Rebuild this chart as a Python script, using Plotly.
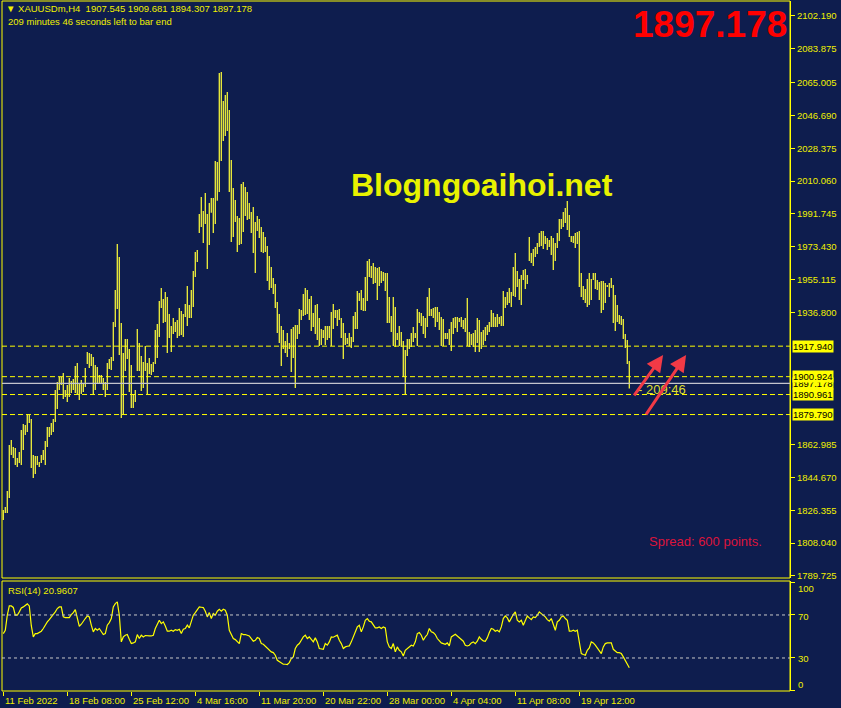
"""
XAUUSD H4 chart in MetaTrader style, with an RSI(14) panel underneath
"""

import plotly.graph_objects as go

W, H = 841, 708

# ---- data ----
bar_high = [
    1826.5, 1828.2, 1837.2, 1862.8, 1865.6, 1861.7, 1861.1, 1855.5, 1858.9, 1871.2,
    1874.5, 1874.0, 1880.1, 1880.1, 1877.3, 1857.2, 1856.6, 1856.6, 1853.3, 1857.2,
    1860.0, 1865.0, 1872.8, 1872.8, 1875.1, 1877.3, 1893.5, 1897.9, 1900.7, 1900.7,
    1903.0, 1893.5, 1896.3, 1900.2, 1898.5, 1899.6, 1906.9, 1908.5, 1897.4, 1899.1,
    1897.4, 1905.8, 1914.7, 1914.1, 1913.6, 1911.9, 1907.4, 1906.3, 1901.9, 1901.9,
    1900.2, 1897.9, 1908.5, 1910.8, 1911.9, 1931.4, 1949.3, 1975.0, 1967.7, 1930.9,
    1914.1, 1921.9, 1921.9, 1916.4, 1907.4, 1891.3, 1893.5, 1927.5, 1919.7, 1912.5,
    1909.1, 1918.0, 1908.5, 1911.3, 1908.0, 1909.1, 1927.0, 1930.3, 1943.1, 1950.4,
    1944.3, 1948.2, 1945.4, 1935.9, 1929.2, 1933.7, 1931.4, 1932.5, 1939.2, 1937.6,
    1935.9, 1941.5, 1951.5, 1940.9, 1949.3, 1959.9, 1970.5, 1971.6, 1991.7, 2001.2,
    1993.4, 2003.4, 1991.7, 1997.8, 2000.6, 2000.6, 2021.3, 2020.7, 2070.4, 2070.9,
    2054.7, 2058.1, 2059.8, 2049.7, 2021.8, 2006.2, 1999.5, 1990.6, 1989.5, 2008.4,
    2009.5, 2006.8, 2004.0, 1997.8, 1992.8, 1995.6, 1987.2, 1990.6, 1988.9, 1984.4,
    1981.6, 1978.9, 1973.8, 1968.3, 1962.1, 1956.0, 1952.6, 1942.6, 1935.9, 1929.2,
    1927.0, 1920.8, 1925.3, 1919.7, 1927.5, 1928.6, 1929.8, 1929.8, 1938.7, 1938.1,
    1947.0, 1950.4, 1949.3, 1944.3, 1945.9, 1936.4, 1940.9, 1941.5, 1933.7, 1927.5,
    1927.0, 1929.2, 1929.2, 1929.2, 1937.0, 1941.5, 1938.1, 1938.1, 1938.7, 1933.7,
    1930.9, 1925.3, 1922.5, 1925.3, 1923.1, 1934.8, 1937.0, 1948.7, 1947.6, 1949.3,
    1944.8, 1956.5, 1965.5, 1966.6, 1962.7, 1964.3, 1962.1, 1961.6, 1962.1, 1959.9,
    1959.3, 1958.8, 1958.8, 1945.4, 1934.8, 1945.4, 1939.8, 1925.3, 1929.2, 1925.9,
    1920.8, 1915.8, 1921.9, 1921.9, 1925.3, 1928.6, 1925.3, 1938.7, 1937.0, 1936.4,
    1934.8, 1933.7, 1945.4, 1950.4, 1938.7, 1939.2, 1939.8, 1939.8, 1937.0, 1934.2,
    1933.1, 1925.3, 1925.3, 1927.5, 1931.4, 1933.7, 1934.2, 1934.2, 1933.7, 1934.2,
    1932.5, 1933.7, 1944.8, 1925.9, 1924.7, 1925.3, 1927.0, 1933.7, 1932.5, 1925.9,
    1927.0, 1928.6, 1929.8, 1931.4, 1938.1, 1936.4, 1934.2, 1935.9, 1934.2, 1934.8,
    1948.7, 1945.4, 1948.2, 1950.4, 1948.2, 1962.1, 1969.9, 1959.9, 1955.4, 1957.6,
    1960.4, 1961.0, 1957.6, 1978.9, 1969.9, 1972.2, 1973.3, 1975.5, 1981.1, 1982.2,
    1982.2, 1979.4, 1978.3, 1977.2, 1979.4, 1978.3, 1975.5, 1981.1, 1988.9, 1988.9,
    1992.8, 1995.0, 1998.9, 1991.1, 1979.4, 1979.4, 1981.1, 1981.6, 1982.2, 1958.8,
    1951.5, 1949.8, 1955.4, 1958.8, 1955.4, 1958.8, 1958.8, 1954.9, 1953.8, 1954.3,
    1954.3, 1953.2, 1952.1, 1953.2, 1956.0, 1952.1, 1946.5, 1940.9, 1935.3, 1934.8,
    1933.1, 1924.7, 1921.4, 1909.681,
]

bar_low = [
    1821.0, 1824.9, 1824.9, 1833.2, 1857.2, 1855.5, 1851.6, 1850.5, 1852.7, 1851.6,
    1860.0, 1868.4, 1870.1, 1875.1, 1850.0, 1844.4, 1846.6, 1851.6, 1850.5, 1852.7,
    1854.4, 1851.6, 1861.7, 1867.3, 1868.4, 1870.1, 1875.6, 1882.9, 1893.5, 1896.3,
    1888.5, 1889.6, 1886.8, 1889.6, 1891.8, 1893.5, 1891.8, 1891.3, 1887.9, 1891.3,
    1892.4, 1895.2, 1908.0, 1905.8, 1906.9, 1891.3, 1893.5, 1897.4, 1897.4, 1897.4,
    1893.5, 1889.6, 1893.5, 1905.2, 1904.6, 1909.7, 1928.6, 1938.7, 1913.0, 1877.9,
    1880.1, 1904.1, 1910.8, 1892.4, 1883.4, 1883.4, 1886.8, 1904.1, 1904.1, 1892.9,
    1894.6, 1904.1, 1891.3, 1902.4, 1901.9, 1903.5, 1908.0, 1911.3, 1923.1, 1939.2,
    1930.9, 1931.4, 1914.1, 1922.5, 1914.7, 1924.7, 1925.9, 1922.5, 1923.6, 1924.2,
    1923.1, 1934.2, 1929.2, 1933.7, 1933.7, 1939.8, 1956.5, 1964.9, 1981.1, 1984.4,
    1975.5, 1986.1, 1961.0, 1974.4, 1992.3, 1981.1, 1986.1, 1999.0, 2004.0, 2021.3,
    2032.4, 2035.2, 2038.0, 2004.0, 1976.1, 1978.9, 1987.2, 1970.5, 1974.4, 1975.0,
    1981.6, 1990.6, 1988.3, 1988.9, 1981.1, 1969.9, 1958.8, 1982.2, 1978.3, 1970.5,
    1969.9, 1970.5, 1954.3, 1949.3, 1950.4, 1947.0, 1939.2, 1925.3, 1919.7, 1906.9,
    1916.4, 1914.1, 1911.9, 1916.4, 1903.5, 1911.3, 1894.6, 1921.9, 1924.7, 1932.5,
    1934.8, 1935.3, 1935.9, 1932.5, 1926.4, 1928.6, 1924.7, 1921.4, 1918.0, 1918.6,
    1922.5, 1918.6, 1921.4, 1922.5, 1918.0, 1927.5, 1933.7, 1929.2, 1932.5, 1922.5,
    1910.8, 1918.6, 1919.1, 1918.0, 1916.9, 1920.3, 1927.5, 1927.5, 1943.1, 1938.1,
    1937.6, 1937.6, 1943.1, 1956.5, 1956.0, 1952.6, 1953.2, 1943.7, 1951.5, 1953.2,
    1954.3, 1948.7, 1930.9, 1930.9, 1925.9, 1918.0, 1917.5, 1921.4, 1918.0, 1917.5,
    1900.7, 1890.7, 1912.5, 1916.4, 1917.5, 1920.3, 1922.5, 1918.0, 1930.9, 1929.2,
    1924.7, 1922.5, 1928.6, 1934.8, 1934.8, 1933.7, 1928.6, 1931.4, 1927.0, 1918.0,
    1918.0, 1921.9, 1921.9, 1918.6, 1915.2, 1924.7, 1928.1, 1925.9, 1931.4, 1928.6,
    1927.5, 1925.9, 1918.0, 1917.5, 1918.6, 1917.5, 1914.7, 1919.7, 1914.7, 1916.4,
    1918.6, 1920.8, 1924.2, 1925.9, 1928.6, 1928.6, 1928.6, 1928.6, 1930.3, 1929.2,
    1929.2, 1939.2, 1940.9, 1942.0, 1939.8, 1945.9, 1945.4, 1951.0, 1943.7, 1940.9,
    1954.9, 1949.8, 1952.6, 1965.5, 1964.3, 1962.7, 1967.7, 1969.4, 1973.3, 1973.8,
    1972.2, 1975.0, 1971.6, 1973.3, 1968.8, 1960.4, 1965.5, 1972.7, 1976.6, 1983.3,
    1984.4, 1986.7, 1982.8, 1978.9, 1976.1, 1975.5, 1972.7, 1975.0, 1951.0, 1945.4,
    1943.7, 1942.0, 1939.8, 1940.9, 1943.7, 1954.9, 1949.8, 1949.3, 1943.7, 1936.4,
    1938.1, 1942.0, 1951.0, 1945.4, 1950.4, 1930.9, 1926.4, 1931.4, 1930.3, 1929.8,
    1921.9, 1916.9, 1908.0, 1894.307,
]

rsi_values = [
    52.7, 55.8, 69.8, 78.4, 78.4, 77.0, 69.8, 69.8, 72.9, 76.6,
    77.5, 79.1, 80.3, 78.4, 60.0, 49.6, 52.7, 52.7, 53.6, 54.9,
    57.4, 61.1, 63.6, 65.7, 68.2, 69.8, 72.9, 76.0, 77.5, 77.5,
    68.2, 67.6, 67.6, 67.6, 70.4, 72.2, 75.0, 68.2, 59.5, 61.4,
    63.6, 66.7, 69.1, 68.2, 60.5, 54.3, 57.4, 55.8, 57.4, 54.3,
    51.8, 52.7, 60.5, 62.9, 66.7, 77.5, 80.6, 82.2, 69.8, 45.0,
    49.6, 51.2, 51.8, 47.4, 43.4, 44.0, 45.0, 51.8, 48.1, 51.2,
    49.6, 50.9, 50.5, 50.5, 50.5, 51.2, 57.4, 62.0, 65.1, 62.0,
    63.6, 59.8, 54.9, 54.9, 55.8, 54.9, 56.4, 55.8, 56.7, 52.7,
    56.7, 57.4, 60.5, 58.0, 63.6, 69.8, 72.2, 75.0, 77.5, 77.2,
    76.9, 73.5, 68.2, 72.2, 66.7, 71.3, 69.8, 73.5, 75.3, 73.5,
    75.3, 74.4, 69.8, 55.8, 51.2, 48.1, 47.1, 45.0, 43.4, 52.7,
    51.8, 51.8, 51.2, 50.5, 48.1, 45.6, 46.5, 49.0, 48.1, 43.4,
    42.8, 41.2, 39.4, 37.2, 35.7, 35.0, 32.6, 27.9, 26.4, 24.8,
    24.2, 24.2, 23.9, 25.7, 29.5, 31.0, 38.8, 41.9, 43.4, 46.5,
    49.6, 51.2, 48.1, 49.6, 47.4, 45.0, 48.7, 45.0, 38.8, 38.1,
    38.1, 43.4, 41.9, 45.0, 49.6, 49.3, 50.2, 51.2, 46.5, 43.4,
    38.8, 40.3, 40.9, 41.2, 45.0, 49.6, 52.7, 58.9, 60.5, 54.3,
    58.9, 65.1, 66.7, 64.2, 63.6, 60.5, 58.0, 58.0, 58.9, 57.4,
    58.9, 58.0, 45.0, 40.3, 38.8, 43.4, 35.7, 40.3, 37.2, 35.7,
    31.9, 37.2, 38.8, 40.3, 41.9, 41.2, 45.0, 52.7, 53.6, 51.2,
    46.5, 49.6, 51.8, 57.4, 54.3, 53.6, 51.8, 48.1, 45.6, 44.0,
    43.4, 42.8, 44.0, 41.2, 49.6, 51.2, 52.1, 50.5, 48.7, 47.4,
    45.6, 41.9, 41.2, 41.9, 44.0, 45.0, 43.4, 45.6, 49.6, 47.4,
    45.9, 45.6, 48.7, 53.6, 57.4, 56.7, 54.9, 55.8, 54.3, 58.9,
    66.7, 69.1, 67.3, 63.6, 67.3, 70.4, 72.9, 65.1, 63.6, 65.1,
    60.5, 65.1, 69.1, 67.3, 65.7, 68.2, 67.6, 69.8, 72.9, 71.3,
    69.8, 68.2, 65.7, 64.2, 66.7, 61.1, 55.8, 63.6, 65.1, 68.2,
    69.1, 66.7, 65.1, 54.9, 54.9, 55.8, 54.9, 55.8, 43.4, 34.1,
    33.2, 32.6, 37.2, 39.4, 45.0, 44.0, 41.9, 39.4, 37.2, 34.1,
    40.3, 43.4, 44.0, 44.0, 44.0, 38.1, 36.3, 35.0, 35.0, 34.1,
    31.0, 27.9, 23.9, 20.96,
]

# time axis labels, one every 32 H4 bars
time_tick_index = [0, 32, 64, 96, 128, 160, 192, 224, 256, 288]
time_tick_text = ["11 Feb 2022", "18 Feb 08:00", "25 Feb 12:00", "4 Mar 16:00", "11 Mar 20:00",
                  "20 Mar 22:00", "28 Mar 00:00", "4 Apr 04:00", "11 Apr 08:00", "19 Apr 12:00"]

price_tick_text = ["2102.190", "2083.875", "2065.005", "2046.690", "2028.375", "2010.060",
                   "1991.745", "1973.430", "1955.115", "1936.800", "1862.985", "1844.670",
                   "1826.355", "1808.040", "1789.725"]

level_lines = [1917.940, 1900.924, 1890.961, 1879.790]
bid_price = 1897.178
rsi_levels = [70, 30]
rsi_tick_vals = [100, 70, 30, 0]
rsi_tick_text = ["100", "70", "30", "0"]

# ---- colours ----
BG = "#0e1d4e"
YELLOW = "#ffff00"
TEXT_Y = "#f0f000"
BAR = "#f2f23a"
FONT = "Liberation Sans"


def px(x):
    return x / W


def py(y):
    return 1 - y / H


fig = go.Figure()

# OHLC bars shown as high-low sticks
xs, ys = [], []
for i, (hi, lo) in enumerate(zip(bar_high, bar_low)):
    xs += [i, i, None]
    ys += [lo, hi, None]
fig.add_trace(go.Scatter(x=xs, y=ys, mode="lines", line=dict(color=BAR, width=1.3),
                         hoverinfo="skip", showlegend=False))

fig.add_trace(go.Scatter(x=list(range(len(rsi_values))), y=rsi_values, mode="lines",
                         line=dict(color=YELLOW, width=1.2), xaxis="x2", yaxis="y2",
                         hoverinfo="skip", showlegend=False))

x_dom = [px(2), px(790)]
fig.update_layout(
    width=W, height=H,
    margin=dict(l=0, r=0, t=0, b=0),
    paper_bgcolor=BG, plot_bgcolor=BG,
    font=dict(family=FONT, size=9.5, color=TEXT_Y),
    showlegend=False,
    xaxis=dict(domain=x_dom, range=[-0.65, 393.35], anchor="y", showgrid=False,
               zeroline=False, showticklabels=False, ticks="", automargin=False),
    yaxis=dict(domain=[py(578), py(1)], range=[1788.6, 2110.5], side="right", anchor="x",
               showgrid=False, zeroline=False, showline=True, linecolor=YELLOW, linewidth=1,
               tickvals=[float(t) for t in price_tick_text], ticktext=price_tick_text,
               ticks="outside", ticklen=4, tickcolor=YELLOW, automargin=False,
               tickfont=dict(color=TEXT_Y, size=9.5, family=FONT)),
    xaxis2=dict(domain=x_dom, range=[-0.65, 393.35], anchor="y2", matches="x",
                showgrid=False, zeroline=False, showticklabels=False, automargin=False,
                tickvals=time_tick_index, ticks="outside", ticklen=4, tickcolor=YELLOW),
    yaxis2=dict(domain=[py(691), py(581)], range=[-0.7, 101.6], side="right", anchor="x2",
                showgrid=False, zeroline=False, showline=True, linecolor=YELLOW, linewidth=1,
                tickvals=rsi_tick_vals, showticklabels=False,
                ticks="outside", ticklen=4, tickcolor=YELLOW, automargin=False),
)

# panel frames
for top, bottom in [(1, 578), (581, 691)]:
    fig.add_shape(type="rect", xref="paper", yref="paper", x0=px(2), x1=px(790),
                  y0=py(bottom), y1=py(top), line=dict(color=YELLOW, width=1), layer="below")

# support / resistance levels and bid line
for lvl in level_lines:
    fig.add_shape(type="line", xref="paper", yref="y", x0=px(2), x1=px(790), y0=lvl, y1=lvl,
                  line=dict(color=YELLOW, width=1, dash="5px,3px"))
fig.add_shape(type="line", xref="paper", yref="y", x0=px(2), x1=px(790), y0=bid_price, y1=bid_price,
              line=dict(color="#c4c4cc", width=1.2))

for lvl in rsi_levels:
    fig.add_shape(type="line", xref="paper", yref="y2", x0=px(2), x1=px(790), y0=lvl, y1=lvl,
                  line=dict(color="#c8c8c8", width=1, dash="3px,3px"))

# highlighted price labels on the axis; bid label first so the level labels sit on top of it
for lvl in [bid_price] + level_lines:
    fig.add_annotation(x=px(792), xref="paper", y=lvl, yref="y", xanchor="left", yanchor="middle",
                       text=f"{lvl:.3f}", showarrow=False, bgcolor=YELLOW, borderpad=0,
                       font=dict(color="#000000", size=9.5, family=FONT))

# RSI scale labels: MT4 pulls the end labels inside the panel
rsi_label_y = [588, 616, 658, 684]
for lab, ypix in zip(rsi_tick_text, rsi_label_y):
    fig.add_annotation(x=px(796), y=py(ypix), xref="paper", yref="paper", xanchor="left",
                       yanchor="middle", text=lab, showarrow=False,
                       font=dict(color=TEXT_Y, size=9.5, family=FONT))

# time axis labels (MT4 places them to the right of the tick)
for idx, lab in zip(time_tick_index, time_tick_text):
    fig.add_annotation(x=idx, xref="x2", y=py(700), yref="paper", xanchor="left", yanchor="middle",
                       text=lab, showarrow=False,
                       font=dict(color=TEXT_Y, size=9.5, family=FONT))

# texts
fig.add_annotation(x=px(4), y=py(9), xref="paper", yref="paper", xanchor="left", yanchor="middle",
                   text="▼ XAUUSDm,H4  1907.545 1909.681 1894.307 1897.178", showarrow=False,
                   font=dict(color=TEXT_Y, size=9.5, family=FONT))
fig.add_annotation(x=px(6), y=py(22), xref="paper", yref="paper", xanchor="left", yanchor="middle",
                   text="209 minutes 46 seconds left to bar end", showarrow=False,
                   font=dict(color=TEXT_Y, size=9.5, family=FONT))
fig.add_annotation(x=px(6), y=py(590), xref="paper", yref="paper", xanchor="left", yanchor="middle",
                   text="RSI(14) 20.9607", showarrow=False,
                   font=dict(color=TEXT_Y, size=9.5, family=FONT))
fig.add_annotation(x=px(789), y=py(25), xref="paper", yref="paper", xanchor="right", yanchor="middle",
                   text="<b>1897.178</b>", showarrow=False,
                   font=dict(color="#ff0000", size=37, family=FONT))
fig.add_annotation(x=px(482), y=py(185), xref="paper", yref="paper", xanchor="center", yanchor="middle",
                   text="<b>Blogngoaihoi.net</b>", showarrow=False,
                   font=dict(color="#e8f200", size=32, family=FONT))
fig.add_annotation(x=px(647), y=py(541), xref="paper", yref="paper", xanchor="left", yanchor="middle",
                   text="Spread: 600 points.", showarrow=False,
                   font=dict(color="#dc143c", size=13, family=FONT))
fig.add_annotation(x=316.4, xref="x", y=1893.5, yref="y", xanchor="left", yanchor="middle",
                   text="- 209:46", showarrow=False,
                   font=dict(color="#dede30", size=13, family=FONT))

# two red arrows drawn on the chart
arrows = [((314.9, 1889.6), (329.9, 1913.0)), ((320.9, 1879.0), (341.4, 1913.0))]
for (tx, ty), (hx, hy) in arrows:
    fig.add_annotation(x=hx, y=hy, xref="x", yref="y", ax=tx, ay=ty, axref="x", ayref="y",
                       text="", showarrow=True, arrowhead=2, arrowsize=1.1, arrowwidth=3,
                       arrowcolor="#f23a46")

# the page body has an 8px default margin; drop it so the chart sits at the window corner
fig.write_html("out.html", config={"displayModeBar": False},
               post_script="document.body.style.margin='0';")
